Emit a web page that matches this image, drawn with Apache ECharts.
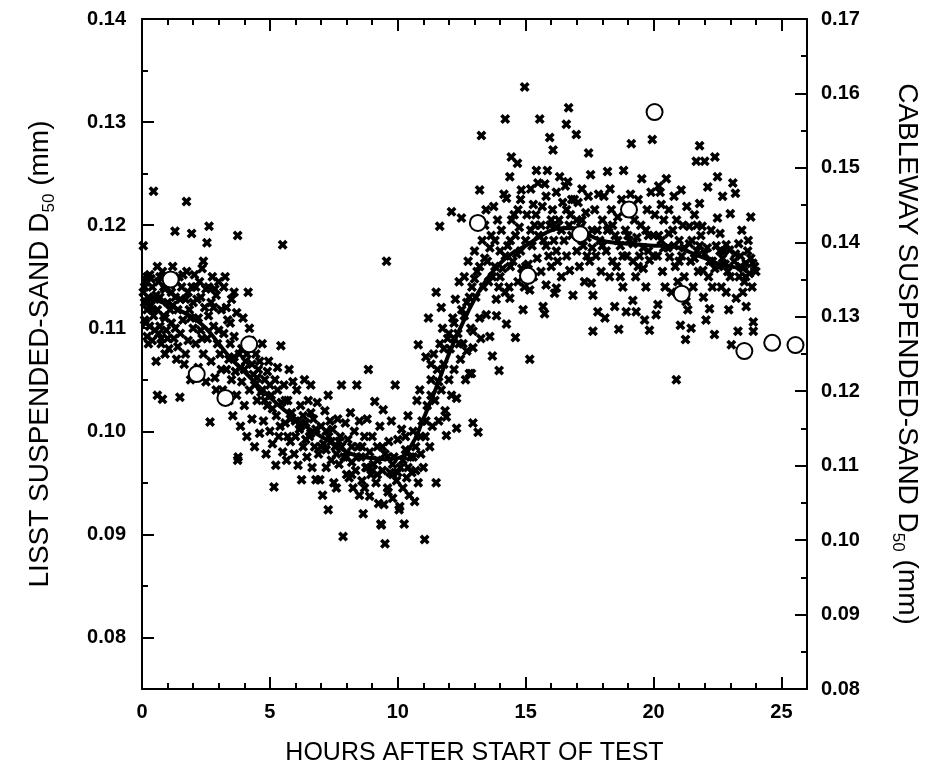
<!DOCTYPE html>
<html>
<head>
<meta charset="utf-8">
<script src="https://cdn.jsdelivr.net/npm/echarts@6/dist/echarts.min.js"></script>
<style>html,body{margin:0;padding:0;background:#fff;}#c{width:929px;height:778px;}</style>
</head>
<body>
<div id="c"></div>
<script>
// ---- DATA ----
const xTickLabels = [0, 5, 10, 15, 20, 25];
const leftTickLabels = [0.08, 0.09, 0.10, 0.11, 0.12, 0.13, 0.14];
const rightTickLabels = [0.08, 0.09, 0.10, 0.11, 0.12, 0.13, 0.14, 0.15, 0.16, 0.17];

// LISST D50 (mm) vs hours, crosses (left axis)
const lisstEarly = [
[0.05,0.118],[0.05,0.1135],[0.1,0.1125],[0.1,0.1108],[0.15,0.1145],[0.2,0.1118],[0.2,0.1092],[0.25,0.1130],[0.3,0.1102],[0.3,0.1152],[0.35,0.1122],[0.4,0.1088],[0.4,0.1140],[0.45,0.1112],[0.45,0.1233],[0.5,0.1128],[0.5,0.1098],[0.1,0.1140],[0.25,0.1085],[0.35,0.1148],
[0.55,0.1068],[0.6,0.1035],[0.6,0.1118],[0.65,0.1145],[0.7,0.1102],[0.7,0.1130],[0.75,0.1090],[0.8,0.1031],[0.8,0.1155],[0.85,0.1112],[0.9,0.1075],[0.9,0.1138],[0.95,0.1098],[1.0,0.1125],[0.6,0.1160],[0.75,0.1085],[0.95,0.1150],
[1.05,0.1080],[1.1,0.1142],[1.15,0.1105],[1.2,0.1160],[1.25,0.1090],[1.29,0.1194],[1.3,0.1130],[1.35,0.1070],[1.4,0.1118],[1.45,0.1150],[1.48,0.1033],[1.5,0.1095],[1.2,0.1122],[1.4,0.1082],
[1.55,0.1140],[1.6,0.1108],[1.65,0.1065],[1.7,0.1128],[1.74,0.1223],[1.75,0.1155],[1.8,0.1088],[1.85,0.1118],[1.9,0.1050],[1.94,0.1192],[1.95,0.1140],[2.0,0.1100],[1.7,0.1075],
[2.05,0.1152],[2.1,0.1085],[2.15,0.1128],[2.2,0.1062],[2.25,0.1145],[2.3,0.1098],[2.35,0.1158],[2.4,0.1075],[2.45,0.1120],[2.5,0.1048],[2.5,0.1138],[2.2,0.1110],[2.4,0.1165],
[2.54,0.1183],[2.62,0.1199],[2.55,0.1090],[2.6,0.1140],[2.66,0.1009],[2.7,0.1068],[2.75,0.1150],[2.8,0.1102],[2.85,0.1052],[2.9,0.1132],[2.95,0.1085],[3.0,0.1145],[2.8,0.1120],[2.9,0.1040],
[3.05,0.1075],[3.1,0.1118],[3.15,0.1040],[3.2,0.1095],[3.25,0.1150],[3.3,0.1060],[3.35,0.1108],[3.4,0.1030],[3.45,0.1085],[3.5,0.1128],[3.5,0.1050],[3.2,0.1140],[3.4,0.1070],
[3.55,0.1015],[3.6,0.1092],[3.65,0.1058],[3.7,0.1035],[3.74,0.1190],[3.74,0.0972],[3.76,0.0975],[3.8,0.1075],[3.85,0.1005],[3.9,0.1048],[3.95,0.1110],[4.0,0.1025],[3.6,0.1135],[3.85,0.1062],
[4.05,0.1068],[4.1,0.0995],[4.15,0.1135],[4.2,0.1040],[4.25,0.1088],[4.3,0.1012],[4.35,0.1055],[4.4,0.0985],[4.45,0.1075],[4.5,0.1030],[4.2,0.1100],[4.4,0.1045],
[4.55,0.1060],[4.6,0.0998],[4.65,0.1038],[4.7,0.1085],[4.75,0.1010],[4.8,0.1050],[4.85,0.0978],[4.9,0.1025],[4.95,0.1068],[5.0,0.1000],[4.7,0.1040],[4.9,0.1058],
[5.05,0.1035],[5.1,0.0988],[5.16,0.0946],[5.2,0.1050],[5.23,0.0967],[5.25,0.1015],[5.3,0.1062],[5.35,0.0995],[5.43,0.1083],[5.45,0.1028],[5.5,0.1181],[5.5,0.0980],[5.3,0.1040],
[5.55,0.1045],[5.6,0.1008],[5.65,0.0972],[5.7,0.1030],[5.75,0.1060],[5.8,0.0990],[5.85,0.1018],[5.9,0.1048],[5.95,0.0978],[6.0,0.1010],[5.7,0.0995],
[6.05,0.1040],[6.1,0.0967],[6.15,0.1002],[6.2,0.1025],[6.24,0.0953],[6.3,0.0985],[6.35,0.1050],[6.4,0.1008],[6.45,0.0975],[6.5,0.1030],[6.3,0.1015],
[6.55,0.0995],[6.6,0.1045],[6.65,0.0965],[6.7,0.1012],[6.8,0.0953],[6.75,0.0985],[6.85,0.1028],[6.9,0.0978],[6.95,0.0953],[7.0,0.1005],[6.6,0.1018],
[7.06,0.0938],[7.1,0.0988],[7.15,0.1020],[7.2,0.0965],[7.28,0.0924],[7.28,0.1035],[7.3,0.0995],[7.35,0.1010],[7.4,0.0972],[7.45,0.1002],[7.5,0.0950],[7.2,0.0982],
[7.55,0.0985],[7.6,0.0945],[7.65,0.1012],[7.7,0.0968],[7.75,0.0995],[7.8,0.1045],[7.86,0.0898],[7.9,0.0975],[7.95,0.1008],[8.0,0.0958],[7.7,0.0990],
[8.05,0.0992],[8.1,0.0955],[8.15,0.1018],[8.2,0.0970],[8.25,0.0945],[8.3,0.1000],[8.4,0.1045],[8.35,0.0962],[8.45,0.0985],[8.5,0.0938],[8.5,0.1010],[8.2,0.0985],
[8.55,0.0975],[8.6,0.0952],[8.65,0.0920],[8.7,0.0995],[8.75,0.0965],[8.85,0.1060],[8.8,0.1012],[8.9,0.0937],[8.9,0.0980],[8.95,0.0958],[9.0,0.0995],[8.7,0.0945],
[9.05,0.0968],[9.1,0.1029],[9.15,0.0950],[9.2,0.0985],[9.25,0.0930],[9.3,0.1005],[9.34,0.0910],[9.36,0.0909],[9.4,0.0962],[9.43,0.1021],[9.46,0.0929],[9.5,0.0891],[9.5,0.0978],[9.2,0.0958],
[9.56,0.1165],[9.6,0.0945],[9.62,0.0941],[9.65,0.0990],[9.7,0.0960],[9.75,0.1010],[9.8,0.0935],[9.85,0.0975],[9.9,0.1045],[9.95,0.0952],[10.0,0.0992],[9.8,0.0968]
];
const lisstLate = [
[10.05,0.0924],[10.08,0.0927],[10.1,0.0965],[10.15,0.1002],[10.2,0.0945],[10.25,0.0910],[10.3,0.0982],[10.35,0.0955],[10.4,0.1015],[10.45,0.0938],[10.5,0.0975],[10.3,0.0995],
[10.55,0.0960],[10.6,0.1000],[10.66,0.0932],[10.7,0.0985],[10.75,0.1030],[10.8,0.1084],[10.8,0.0950],[10.86,0.1040],[10.9,0.0978],[10.95,0.1010],[11.0,0.0965],[10.7,0.0962],
[11.05,0.0895],[11.07,0.0995],[11.1,0.1072],[11.15,0.1025],[11.2,0.1110],[11.25,0.0985],[11.3,0.1050],[11.35,0.1005],[11.4,0.1075],[11.45,0.1030],[11.5,0.0950],[11.5,0.1135],[11.3,0.1065],
[11.55,0.1060],[11.6,0.1010],[11.64,0.1199],[11.65,0.1085],[11.7,0.1040],[11.75,0.1100],[11.8,0.1065],[11.85,0.1020],[11.9,0.1014],[11.9,0.0996],[11.95,0.1090],[12.0,0.1050],[11.7,0.1120],
[12.05,0.1080],[12.1,0.1213],[12.1,0.1035],[12.15,0.1110],[12.2,0.1060],[12.25,0.1128],[12.3,0.1032],[12.3,0.1003],[12.35,0.1095],[12.4,0.1145],[12.45,0.1070],[12.49,0.1207],[12.5,0.1118],[12.2,0.1090],
[12.55,0.1085],[12.6,0.1150],[12.65,0.1050],[12.7,0.1125],[12.75,0.1165],[12.8,0.1056],[12.85,0.1100],[12.88,0.1056],[12.9,0.1140],[12.94,0.1097],[12.94,0.1081],[12.94,0.1008],[13.0,0.1175],[12.7,0.1078],
[13.05,0.1130],[13.1,0.1155],[13.14,0.0999],[13.2,0.1234],[13.2,0.1110],[13.27,0.1287],[13.3,0.1185],[13.35,0.1140],[13.4,0.1200],[13.46,0.1113],[13.5,0.1165],[13.25,0.1090],[13.45,0.1215],
[13.55,0.1145],[13.6,0.1092],[13.65,0.1190],[13.7,0.1073],[13.75,0.1218],[13.8,0.1160],[13.85,0.1128],[13.86,0.1112],[13.9,0.1205],[13.96,0.1059],[14.0,0.1175],[13.7,0.1150],[13.95,0.1140],
[14.05,0.1195],[14.1,0.1158],[14.15,0.1230],[14.2,0.1303],[14.25,0.1226],[14.25,0.1104],[14.3,0.1180],[14.35,0.1140],[14.38,0.1247],[14.38,0.1129],[14.44,0.1266],[14.45,0.1205],[14.5,0.1165],[14.2,0.1135],[14.4,0.1185],
[14.55,0.1210],[14.6,0.1091],[14.65,0.1172],[14.68,0.1260],[14.7,0.1145],[14.75,0.1198],[14.8,0.1225],[14.83,0.1234],[14.85,0.1158],[14.9,0.1118],[14.96,0.1334],[15.0,0.1185],[14.7,0.1215],[14.95,0.1140],
[15.05,0.1210],[15.1,0.1162],[15.16,0.1070],[15.16,0.1137],[15.2,0.1235],[15.25,0.1180],[15.3,0.1150],[15.35,0.1200],[15.42,0.1253],[15.45,0.1168],[15.48,0.1241],[15.5,0.1190],[15.55,0.1303],[15.3,0.1220],
[15.6,0.1155],[15.65,0.1218],[15.68,0.1121],[15.7,0.1185],[15.74,0.1114],[15.8,0.1142],[15.8,0.1228],[15.85,0.1253],[15.9,0.1170],[15.94,0.1285],[15.95,0.1200],[16.0,0.1160],[15.75,0.1240],
[16.05,0.1215],[16.07,0.1273],[16.1,0.1185],[16.13,0.1134],[16.2,0.1139],[16.2,0.1232],[16.25,0.1165],[16.3,0.1205],[16.33,0.1247],[16.4,0.1150],[16.45,0.1222],[16.5,0.1185],[16.2,0.1198],
[16.55,0.1238],[16.59,0.1298],[16.6,0.1170],[16.65,0.1242],[16.68,0.1314],[16.72,0.1156],[16.75,0.1210],[16.8,0.1190],[16.85,0.1132],[16.9,0.1225],[16.98,0.1288],[17.0,0.1175],[16.7,0.1200],
[17.05,0.1222],[17.1,0.1160],[17.15,0.1198],[17.2,0.1235],[17.25,0.1180],[17.3,0.1145],[17.35,0.1212],[17.4,0.1188],[17.46,0.1270],[17.5,0.1165],[17.2,0.1205],[17.45,0.1228],
[17.54,0.1249],[17.57,0.1144],[17.6,0.1195],[17.63,0.1132],[17.63,0.1097],[17.7,0.1215],[17.75,0.1170],[17.82,0.1116],[17.85,0.1230],[17.9,0.1185],[17.95,0.1155],[18.0,0.1205],
[18.06,0.1228],[18.1,0.1110],[18.15,0.1175],[18.2,0.1252],[18.25,0.1198],[18.28,0.1150],[18.35,0.1215],[18.4,0.1165],[18.48,0.1121],[18.5,0.1190],[18.3,0.1235],
[18.55,0.1160],[18.6,0.1208],[18.64,0.1099],[18.7,0.1180],[18.75,0.1225],[18.8,0.1140],[18.83,0.1253],[18.9,0.1195],[18.93,0.1116],[18.95,0.1170],[19.0,0.1212],[18.7,0.1150],
[19.05,0.1185],[19.1,0.1230],[19.13,0.1279],[19.19,0.1127],[19.2,0.1165],[19.25,0.1205],[19.3,0.1150],[19.32,0.1116],[19.35,0.1188],[19.4,0.1225],[19.45,0.1170],[19.5,0.1200],
[19.54,0.1245],[19.6,0.1158],[19.65,0.1108],[19.7,0.1195],[19.75,0.1215],[19.8,0.1175],[19.84,0.1098],[19.84,0.1166],[19.9,0.1232],[19.95,0.1283],[20.0,0.1190],[19.7,0.1140],
[20.05,0.1210],[20.1,0.1113],[20.15,0.1170],[20.17,0.1123],[20.2,0.1238],[20.26,0.1232],[20.3,0.1185],[20.35,0.1155],[20.4,0.1205],[20.45,0.1140],[20.5,0.1245],[20.3,0.1220],
[20.55,0.1178],[20.63,0.1169],[20.6,0.1215],[20.7,0.1135],[20.75,0.1195],[20.8,0.1228],[20.85,0.1160],[20.89,0.1050],[20.9,0.1205],[20.95,0.1145],[21.0,0.1185],
[21.05,0.1103],[21.08,0.1234],[21.1,0.1170],[21.15,0.1200],[21.2,0.1150],[21.25,0.1089],[21.27,0.1126],[21.3,0.1218],[21.34,0.1118],[21.4,0.1199],[21.45,0.1165],[21.47,0.1100],[21.5,0.1185],
[21.55,0.1140],[21.6,0.1210],[21.67,0.1262],[21.7,0.1175],[21.75,0.1155],[21.8,0.1277],[21.8,0.1221],[21.85,0.1190],[21.9,0.1199],[21.93,0.1156],[21.95,0.1130],[22.0,0.1262],[21.7,0.1200],
[22.05,0.1108],[22.1,0.1178],[22.12,0.1237],[22.15,0.1150],[22.19,0.1119],[22.25,0.1195],[22.3,0.1165],[22.38,0.1094],[22.4,0.1266],[22.45,0.1180],[22.5,0.1247],[22.5,0.1207],[22.3,0.1140],
[22.55,0.1160],[22.6,0.1192],[22.65,0.1140],[22.7,0.1228],[22.75,0.1175],[22.84,0.1181],[22.84,0.1135],[22.9,0.1155],[22.94,0.1118],[22.97,0.1176],[23.0,0.1211],[22.7,0.1168],
[23.04,0.1084],[23.1,0.1241],[23.15,0.1165],[23.2,0.1231],[23.23,0.1129],[23.3,0.1097],[23.33,0.1182],[23.35,0.1150],[23.4,0.1170],[23.49,0.1135],[23.45,0.1195],[23.5,0.1158],
[23.55,0.1145],[23.62,0.1121],[23.62,0.1163],[23.68,0.1175],[23.75,0.1153],[23.8,0.1208],[23.85,0.1140],[23.88,0.1163],[23.9,0.1106],[23.9,0.1097],[23.95,0.1160],[23.7,0.1185]
];
// additional points in the densest part of the band
const lisstDense = [
[0.15,0.1105],[0.2,0.1150],[0.3,0.1128],[0.4,0.1118],[0.55,0.1132],[0.65,0.1095],[0.7,0.1150],[0.85,0.1140],[0.9,0.1110],[1.0,0.1090],[1.1,0.1118],[1.15,0.1135],[1.3,0.1100],[1.35,0.1145],[1.5,0.1128],[1.6,0.1152],[1.8,0.1135],[1.9,0.1110],[2.0,0.1125],[2.1,0.1140],[2.3,0.1130],[2.35,0.1090],[2.6,0.1112],[2.7,0.1125],[2.85,0.1138],[3.0,0.1098],[3.1,0.1060],[3.3,0.1120],[3.45,0.1105],[3.6,0.1072],[3.7,0.1115],[3.9,0.1080],[4.0,0.1060],[4.1,0.1075],[4.3,0.1065],[4.5,0.1052],[4.6,0.1068],[4.8,0.1030],[5.0,0.1045],[5.1,0.1022],[5.4,0.1005],[5.6,0.1030],[5.8,0.1012],[6.0,0.0995],[6.2,0.1005],[6.4,0.0992],[6.6,0.0998],[6.8,0.1002],[7.0,0.0985],[7.2,0.1000],[7.4,0.0990],[7.6,0.0978],[7.8,0.0985],[8.0,0.0975],[8.2,0.0958],[8.4,0.0975],[8.6,0.0985],[8.8,0.0965],[9.0,0.0962],[9.2,0.0972],[9.4,0.0985],[9.6,0.0975],[9.8,0.0958],[10.0,0.0960],[10.2,0.0972],[10.4,0.0965],[10.6,0.0975],[10.9,0.0995],[11.1,0.1010],[11.3,0.1035],[11.6,0.1048],[11.8,0.1080],[12.0,0.1095],[12.2,0.1105],[12.4,0.1085],[12.6,0.1112],[12.8,0.1130],[13.0,0.1148],[13.2,0.1160],[13.4,0.1168],[13.6,0.1178],[13.8,0.1185],[14.0,0.1150],[14.2,0.1170],[14.4,0.1160],[14.6,0.1190],[14.8,0.1175],[15.0,0.1160],[15.2,0.1195],[15.4,0.1210],[15.6,0.1200],[15.8,0.1180],[16.0,0.1205],[16.2,0.1175],[16.4,0.1195],[16.6,0.1215],[16.8,0.1225],[17.0,0.1205],[17.2,0.1185],[17.4,0.1170],[17.6,0.1178],[17.8,0.1195],[18.0,0.1180],[18.2,0.1195],[18.4,0.1200],[18.6,0.1185],[18.8,0.1170],[19.0,0.1190],[19.2,0.1182],[19.4,0.1160],[19.6,0.1178],[19.8,0.1190],[20.0,0.1170],[20.2,0.1190],[20.4,0.1178],[20.6,0.1192],[20.8,0.1180],[21.0,0.1165],[21.2,0.1178],[21.4,0.1182],[21.6,0.1168],[21.8,0.1180],[22.0,0.1172],[22.2,0.1165],[22.4,0.1158],[22.6,0.1175],[22.8,0.1162],[23.0,0.1150],[23.2,0.1172],[23.4,0.1160],[23.6,0.1150],[23.8,0.1168],[24.0,0.1155]
];

// Smoothed LISST curve (left axis)
const curveHours = [0,0.5,1,1.5,2,2.5,3,3.5,4,4.5,5,5.5,6,6.5,7,7.5,8,8.5,9,9.5,10,10.5,11,11.5,12,12.5,13,13.5,14,14.5,15,15.5,16,16.5,17,17.5,18,18.5,19,19.5,20,20.5,21,21.5,22,22.5,23,23.5,23.7];
const curveD50 = [0.1128,0.1127,0.1123,0.1117,0.1110,0.1100,0.1085,0.1070,0.1058,0.1045,0.1033,0.1022,0.1012,0.1003,0.0995,0.0988,0.0980,0.0976,0.0974,0.0973,0.0974,0.0985,0.1012,0.1042,0.1075,0.1103,0.1128,0.1148,0.1163,0.1173,0.1180,0.1188,0.1195,0.1197,0.1197,0.1190,0.1185,0.1183,0.1182,0.1181,0.1180,0.1180,0.1178,0.1173,0.1168,0.1163,0.1160,0.1158,0.1157];

// Cableway D50 (mm), circles (right axis)
const cablewayHours = [1.12, 2.14, 3.26, 4.19, 13.13, 15.09, 17.13, 19.04, 20.04, 21.1, 23.55, 24.64, 25.55];
const cablewayD50 = [0.1350, 0.1223, 0.1191, 0.1263, 0.1426, 0.1355, 0.1411, 0.1444, 0.1575, 0.1331, 0.1254, 0.1265, 0.1262];

// ---- CHART ----
const FONT = '"Liberation Sans", Arial, sans-serif';
const crossPath = 'path://M0,2.5 L2.5,0 L5,2.5 L7.5,0 L10,2.5 L7.5,5 L10,7.5 L7.5,10 L5,7.5 L2.5,10 L0,7.5 L2.5,5 Z';
const crosses = lisstEarly.concat(lisstLate, lisstDense);
const curve = curveHours.map((h, i) => [h, curveD50[i]]);
const circles = cablewayHours.map((h, i) => [h, cablewayD50[i]]);

const lineStyle = { color: '#000', width: 2 };
const labelStyle = { color: '#000', fontFamily: FONT, fontWeight: 'bold', fontSize: 20 };
const titleRich = {
  t: { color: '#000', fontFamily: FONT, fontSize: 28, lineHeight: 36, verticalAlign: 'middle' },
  s: { color: '#000', fontFamily: FONT, fontSize: 17, lineHeight: 17, verticalAlign: 'bottom' }
};

const chart = echarts.init(document.getElementById('c'), null, { renderer: 'canvas' });
chart.setOption({
  backgroundColor: '#fff',
  animation: false,
  grid: { left: 142, right: 122, top: 19, bottom: 89, containLabel: false },
  xAxis: [
    {
      type: 'value', min: 0, max: 26, interval: 5, position: 'bottom',
      name: 'HOURS AFTER START OF TEST', nameLocation: 'middle', nameGap: 52,
      nameTextStyle: { color: '#000', fontFamily: FONT, fontSize: 25 },
      axisLine: { show: true, onZero: false, lineStyle },
      axisTick: { show: true, inside: true, length: 12, lineStyle },
      minorTick: { show: true, splitNumber: 5, length: 6, lineStyle: { color: '#000', width: 2 } },
      axisLabel: Object.assign({ margin: 13, customValues: xTickLabels, formatter: v => String(v) }, labelStyle),
      splitLine: { show: false }, minorSplitLine: { show: false }
    },
    {
      type: 'value', min: 0, max: 26, interval: 5, position: 'top',
      axisLine: { show: true, onZero: false, lineStyle },
      axisTick: { show: true, inside: true, length: 12, lineStyle },
      minorTick: { show: true, splitNumber: 5, length: 6, lineStyle: { color: '#000', width: 2 } },
      axisLabel: { show: false }, splitLine: { show: false }
    }
  ],
  yAxis: [
    {
      type: 'value', min: 0.075, max: 0.14, interval: 0.005, position: 'left',
      name: '{t|LISST SUSPENDED-SAND D}{s|50}{t| (mm)}', nameLocation: 'middle', nameGap: 84,
      nameTextStyle: { rich: titleRich },
      axisLine: { show: true, onZero: false, lineStyle },
      axisTick: { show: true, inside: true, length: 6, lineStyle },
      axisLabel: Object.assign({ margin: 16, customValues: leftTickLabels, formatter: v => v.toFixed(2) }, labelStyle),
      splitLine: { show: false }
    },
    {
      type: 'value', min: 0.08, max: 0.17, interval: 0.01, position: 'right',
      name: '{t|CABLEWAY SUSPENDED-SAND D}{s|50}{t| (mm)}', nameLocation: 'middle', nameGap: 82, nameRotate: -90,
      nameTextStyle: { rich: titleRich },
      axisLine: { show: true, onZero: false, lineStyle },
      axisTick: { show: true, inside: true, length: 12, lineStyle },
      minorTick: { show: true, splitNumber: 2, length: 6, lineStyle: { color: '#000', width: 2 } },
      axisLabel: Object.assign({ margin: 14, customValues: rightTickLabels, formatter: v => v.toFixed(2) }, labelStyle),
      splitLine: { show: false }, minorSplitLine: { show: false }
    },
    {
      type: 'value', min: 0.075, max: 0.14, position: 'left',
      axisLine: { show: false },
      axisTick: { show: true, inside: true, length: 12, lineStyle, customValues: leftTickLabels },
      axisLabel: { show: false }, splitLine: { show: false }
    }
  ],
  series: [
    {
      type: 'scatter', xAxisIndex: 0, yAxisIndex: 0, data: crosses,
      symbol: crossPath, symbolSize: 10,
      itemStyle: { color: '#000', opacity: 1 }, z: 2
    },
    {
      type: 'line', xAxisIndex: 0, yAxisIndex: 0, data: curve,
      smooth: 0.5, showSymbol: false, symbol: 'none',
      lineStyle: { color: '#000', width: 4 }, z: 3
    },
    {
      type: 'scatter', xAxisIndex: 0, yAxisIndex: 1, data: circles,
      symbol: 'circle', symbolSize: 16,
      itemStyle: { color: '#fff', borderColor: '#000', borderWidth: 2, opacity: 1 }, z: 4
    }
  ]
});
</script>
</body>
</html>
